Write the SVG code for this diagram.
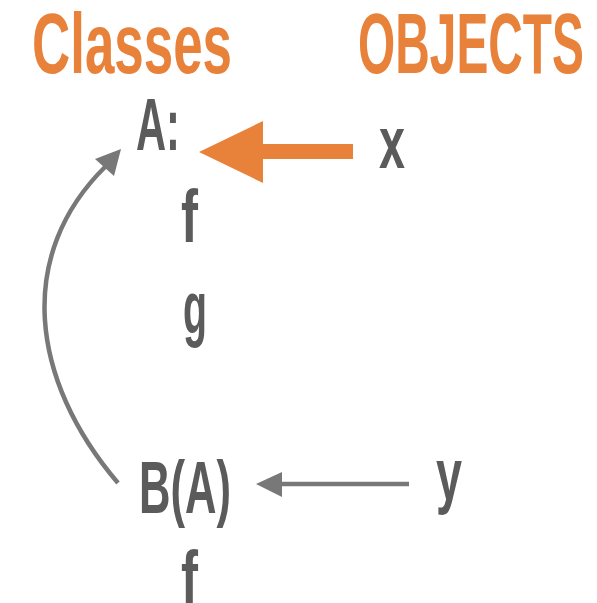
<svg xmlns="http://www.w3.org/2000/svg" width="597" height="603" viewBox="0 0 597 603">
<style>
.h{font-family:"Liberation Sans",Arial,sans-serif;font-weight:bold;font-size:85px;fill:#E8823A}
.t{font-family:"Liberation Sans",Arial,sans-serif;font-weight:bold;font-size:74px;fill:#5B5B5B}
.c{fill:none;stroke:#777877;stroke-width:4.5}
</style>
<rect width="597" height="603" fill="#fff"/>
<g id="classes-title"><text class="h" x="32" y="73" textLength="200" lengthAdjust="spacingAndGlyphs">Classes</text></g>
<g id="objects-title"><text class="h" x="358" y="73" textLength="226" lengthAdjust="spacingAndGlyphs">OBJECTS</text></g>
<g id="classA">
<text class="t" x="136" y="150" textLength="44" lengthAdjust="spacingAndGlyphs">A:</text>
<text class="t" x="181" y="242" textLength="17" lengthAdjust="spacingAndGlyphs">f</text>
<text class="t" x="183" y="333" textLength="24" lengthAdjust="spacingAndGlyphs">g</text>
</g>
<g id="classB">
<text class="t" x="139" y="513" textLength="92" lengthAdjust="spacingAndGlyphs">B(A)</text>
<text class="t" x="181" y="603" textLength="17" lengthAdjust="spacingAndGlyphs">f</text>
</g>
<g id="objX"><text class="t" x="379" y="168" textLength="26" lengthAdjust="spacingAndGlyphs">x</text></g>
<g id="objY"><text class="t" x="436" y="500" textLength="26" lengthAdjust="spacingAndGlyphs">y</text></g>
<g id="connectors">
<path d="M263,144 H353 V159 H263 V183 L199,152 L263,121 Z" fill="#E8823A"/>
<path class="c" d="M409,484 H280"/>
<polygon points="256,484 282,472 282,497" fill="#777877"/>
<path class="c" d="M118,483 C30,380 15,255 106,166"/>
<polygon points="121,149 95,159 114,176" fill="#777877"/>
</g>
</svg>
